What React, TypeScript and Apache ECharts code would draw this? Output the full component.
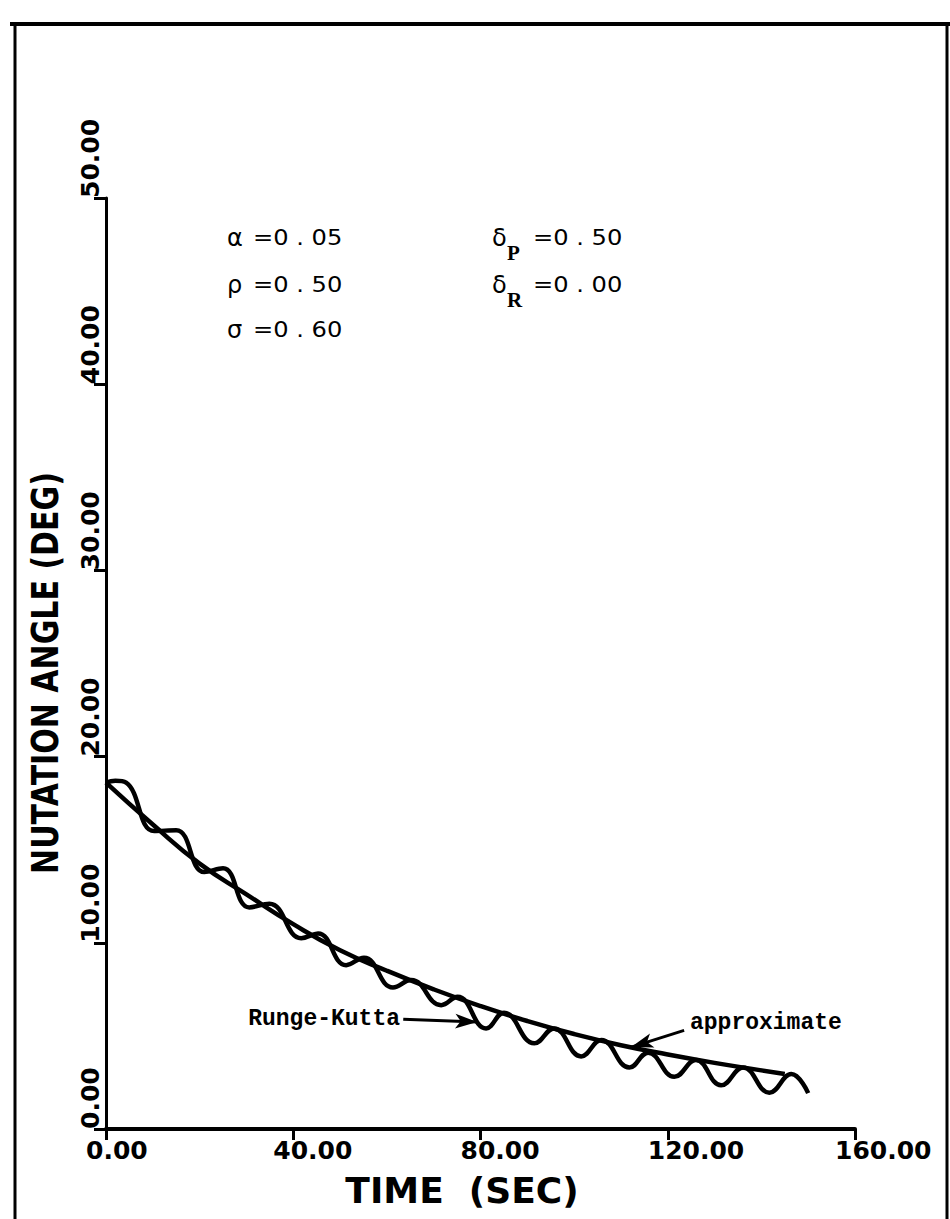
import React, { useEffect, useRef } from "react";
import * as echarts from "echarts";

// Runge-Kutta solution: nutation angle (deg) against time (sec)
const RK_TIME = [0, 2, 4.3, 10.3, 15, 21, 25, 30.6, 34.9, 41.7, 45.3, 51.3, 55.1, 61.3, 65.2, 71.6, 75.1, 81.2, 85, 91.5, 95.7, 101.5, 105.8, 111.8, 115.8, 121.4, 126, 131.4, 136.1, 141.7, 146.4, 150];
const RK_ANGLE = [18.6, 18.7, 18.6, 16.0, 16.05, 13.8, 14.0, 11.9, 12.1, 10.25, 10.5, 8.8, 9.2, 7.6, 8.0, 6.65, 7.1, 5.4, 6.25, 4.6, 5.4, 3.9, 4.78, 3.3, 4.1, 2.8, 3.7, 2.35, 3.3, 1.95, 2.95, 1.93];

// Approximate (averaged) solution
const APPROX_TIME = [0, 10, 20, 30, 40, 50, 60, 70, 80, 90, 100, 110, 120, 130, 140, 145];
const APPROX_ANGLE = [18.6, 16.35, 14.25, 12.6, 11.0, 9.6, 8.5, 7.5, 6.6, 5.8, 5.1, 4.5, 4.0, 3.55, 3.15, 2.95];

// Axis ranges
const X_MIN = 0, X_MAX = 160, X_STEP = 40;
const Y_MIN = 0, Y_MAX = 50, Y_STEP = 10;

// Parameter block
const PARAMS_LEFT = [
  { sym: "α", val: "=0 . 05" },
  { sym: "ρ", val: "=0 . 50" },
  { sym: "σ", val: "=0 . 60" },
];
const PARAMS_RIGHT = [
  { sym: "δ", sub: "P", val: "=0 . 50" },
  { sym: "δ", sub: "R", val: "=0 . 00" },
];

// Arrow annotations in data coordinates: [from, to]
const RK_ARROW = [[63.5, 5.9], [79.3, 5.75]];
const APPROX_ARROW = [[123.5, 5.3], [112.2, 4.4]];

const pairs = (xs: number[], ys: number[]) => xs.map((x, i) => [x, ys[i]]);

const BOLD_SANS = '"DejaVu Sans", sans-serif';

function buildOption() {
  const graphic: any[] = [];

  // page frame
  graphic.push(
    { type: "line", shape: { x1: 10, y1: 24, x2: 950, y2: 24 }, style: { stroke: "#000", lineWidth: 4 } },
    { type: "line", shape: { x1: 15, y1: 22, x2: 15, y2: 1219 }, style: { stroke: "#000", lineWidth: 3 } },
    { type: "line", shape: { x1: 947, y1: 22, x2: 947, y2: 1219 }, style: { stroke: "#000", lineWidth: 3 } }
  );

  // axis titles
  graphic.push({
    type: "text",
    x: 45,
    y: 673,
    rotation: Math.PI / 2,
    scaleX: 0.79,
    style: {
      text: "NUTATION ANGLE (DEG)",
      fill: "#000",
      font: `bold 38px ${BOLD_SANS}`,
      textAlign: "center",
      textVerticalAlign: "middle",
    },
  });
  graphic.push({
    type: "text",
    x: 462,
    y: 1190,
    style: {
      text: "TIME  (SEC)",
      fill: "#000",
      font: `bold 36px ${BOLD_SANS}`,
      textAlign: "center",
      textVerticalAlign: "middle",
    },
  });

  // parameter values
  const rowsY = [238, 285, 330];
  PARAMS_LEFT.forEach((p, i) => {
    graphic.push({
      type: "text", x: 227, y: rowsY[i],
      style: { text: p.sym, fill: "#000", font: `24px "DejaVu Sans"`, textAlign: "left", textVerticalAlign: "middle" },
    });
    graphic.push({
      type: "text", x: 253, y: rowsY[i], scaleX: 1.15,
      style: { text: p.val, fill: "#000", font: `21px "DejaVu Sans"`, textAlign: "left", textVerticalAlign: "middle" },
    });
  });
  PARAMS_RIGHT.forEach((p, i) => {
    graphic.push({
      type: "text", x: 492, y: rowsY[i],
      style: { text: p.sym, fill: "#000", font: `24px "DejaVu Sans"`, textAlign: "left", textVerticalAlign: "middle" },
    });
    graphic.push({
      type: "text", x: 507, y: rowsY[i] + 15,
      style: { text: p.sub, fill: "#000", font: `bold 21px "Liberation Serif"`, textAlign: "left", textVerticalAlign: "middle" },
    });
    graphic.push({
      type: "text", x: 533, y: rowsY[i], scaleX: 1.15,
      style: { text: p.val, fill: "#000", font: `21px "DejaVu Sans"`, textAlign: "left", textVerticalAlign: "middle" },
    });
  });

  // curve labels
  graphic.push({
    type: "text", x: 400, y: 1019,
    style: { text: "Runge-Kutta", fill: "#000", font: `bold 23px "Liberation Mono"`, textAlign: "right", textVerticalAlign: "middle" },
  });
  graphic.push({
    type: "text", x: 690, y: 1023,
    style: { text: "approximate", fill: "#000", font: `bold 23px "Liberation Mono"`, textAlign: "left", textVerticalAlign: "middle" },
  });

  const arrowLine = (a: number[][]) => [{ coord: a[0] }, { coord: a[1] }];

  return {
    animation: false,
    backgroundColor: "#fff",
    grid: { left: 106, right: 95, top: 198, bottom: 90, containLabel: false },
    xAxis: {
      type: "value",
      min: X_MIN,
      max: X_MAX,
      interval: X_STEP,
      axisLine: { show: true, onZero: false, lineStyle: { color: "#000", width: 4 } },
      axisTick: { show: true, inside: false, length: 11, lineStyle: { color: "#000", width: 3 } },
      axisLabel: {
        formatter: (v: number) => v.toFixed(2),
        color: "#000",
        fontFamily: BOLD_SANS,
        fontWeight: "bold",
        fontSize: 25,
        align: "left",
        padding: [0, 0, 0, -20],
        margin: 9,
        showMinLabel: true,
        showMaxLabel: true,
      },
      splitLine: { show: false },
    },
    yAxis: {
      type: "value",
      min: Y_MIN,
      max: Y_MAX,
      interval: Y_STEP,
      axisLine: { show: true, onZero: false, lineStyle: { color: "#000", width: 3 } },
      axisTick: { show: true, inside: false, length: 12, lineStyle: { color: "#000", width: 3 } },
      axisLabel: {
        formatter: (v: number) => v.toFixed(2),
        color: "#000",
        fontFamily: BOLD_SANS,
        fontWeight: "bold",
        fontSize: 25,
        rotate: 90,
        align: "left",
        verticalAlign: "bottom",
        margin: 3,
        showMinLabel: true,
        showMaxLabel: true,
      },
      splitLine: { show: false },
    },
    series: [
      {
        name: "Runge-Kutta",
        type: "line",
        data: pairs(RK_TIME, RK_ANGLE),
        showSymbol: false,
        smooth: 0.45,
        lineStyle: { color: "#000", width: 4.5 },
        silent: true,
      },
      {
        name: "approximate",
        type: "line",
        data: pairs(APPROX_TIME, APPROX_ANGLE),
        showSymbol: false,
        smooth: true,
        lineStyle: { color: "#000", width: 4.5 },
        silent: true,
        markLine: {
          silent: true,
          symbol: ["none", "arrow"],
          symbolSize: [11, 22],
          label: { show: false },
          lineStyle: { color: "#000", width: 3, type: "solid" },
          data: [arrowLine(RK_ARROW), arrowLine(APPROX_ARROW)],
        },
      },
    ],
    graphic,
  };
}

export default function App() {
  const ref = useRef<HTMLDivElement>(null);
  useEffect(() => {
    if (!ref.current) return;
    const chart = echarts.init(ref.current, undefined, { renderer: "svg" });
    chart.setOption(buildOption() as any);
    return () => chart.dispose();
  }, []);
  return (
    <div
      ref={ref}
      style={{ position: "absolute", left: 0, top: 0, width: 950, height: 1219, background: "#fff" }}
    />
  );
}
